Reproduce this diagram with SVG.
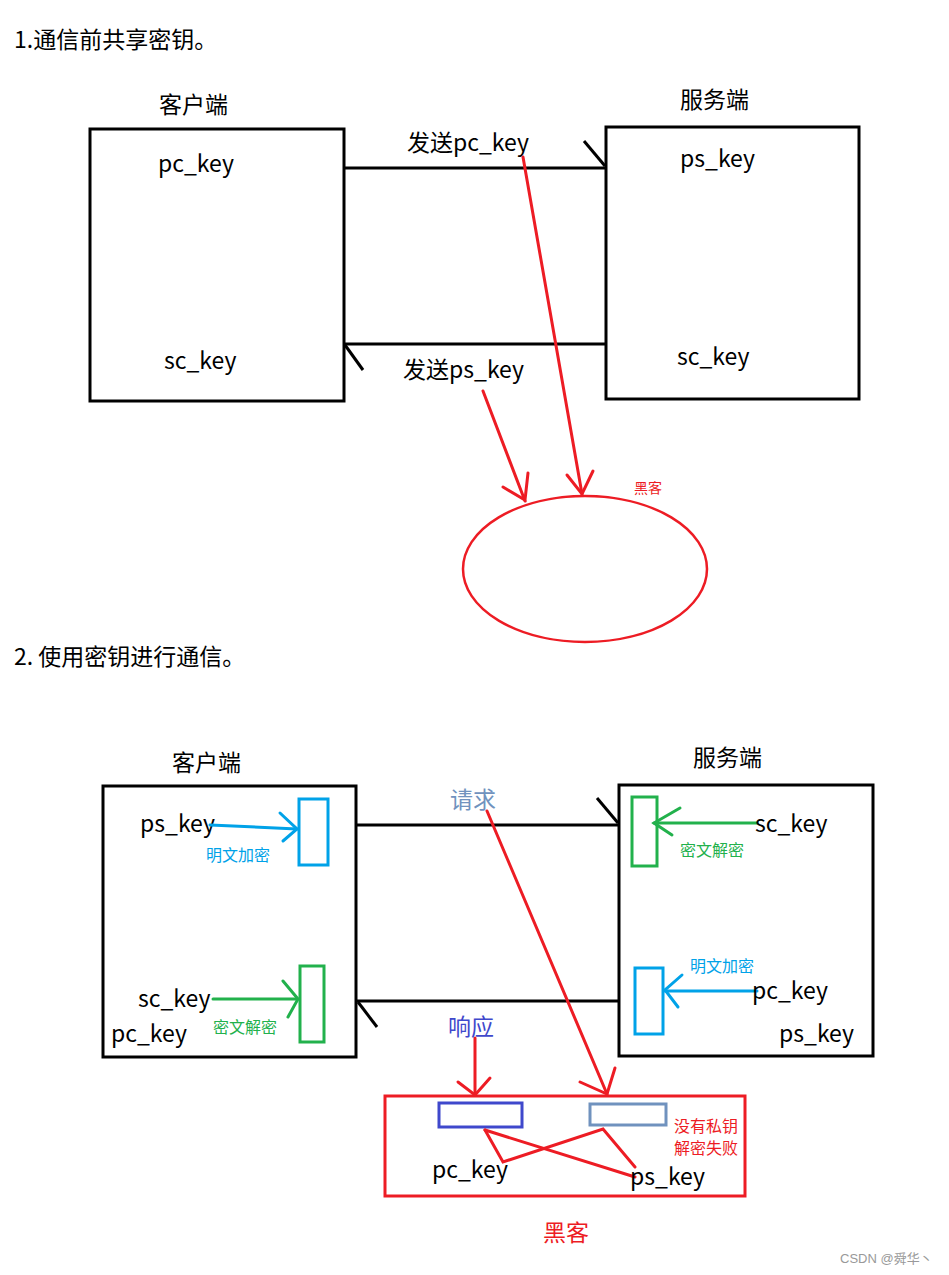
<svg xmlns="http://www.w3.org/2000/svg" width="949" height="1275" viewBox="0 0 949 1275">
<style>
text{font-family:"Noto Sans CJK SC","Microsoft YaHei",sans-serif;fill:#000}
.t{font-size:23px}
.k{font-size:23px}
.s{font-size:16px}
.box{fill:none;stroke:#000;stroke-width:3}
.bl{fill:none;stroke:#000;stroke-width:3;stroke-linecap:butt}
.red{fill:none;stroke:#ed1c24;stroke-width:3;stroke-linecap:round}
.blue{fill:none;stroke:#00a2e8;stroke-width:3;stroke-linecap:round}
.green{fill:none;stroke:#22b14c;stroke-width:3;stroke-linecap:round}
</style>
<rect width="949" height="1275" fill="#fff"/>

<text class="t" x="14" y="48">1.通信前共享密钥。</text>
<text class="t" x="14" y="665">2. 使用密钥进行通信。</text>

<!-- Section 1 nodes -->
<g id="client1">
<rect class="box" x="90" y="129" width="254" height="272"/>
<text class="t" x="159" y="113">客户端</text>
<text class="k" x="158" y="172">pc_key</text>
<text class="k" x="164" y="369">sc_key</text>
</g>
<g id="server1">
<rect class="box" x="606" y="127" width="253" height="272"/>
<text class="t" x="680" y="108">服务端</text>
<text class="k" x="680" y="167">ps_key</text>
<text class="k" x="677" y="365">sc_key</text>
</g>
<g id="hacker1">
<ellipse cx="585" cy="569" rx="122" ry="73" fill="none" stroke="#ed1c24" stroke-width="2.5"/>
<text x="634" y="493" style="font-size:14px;fill:#ed1c24">黑客</text>
</g>

<!-- Section 1 connectors -->
<g id="connectors1">
<line class="bl" x1="344" y1="168" x2="606" y2="168"/>
<line class="bl" x1="584" y1="141" x2="605" y2="166"/>
<line class="bl" x1="344" y1="344" x2="606" y2="344"/>
<line class="bl" x1="345" y1="345" x2="363" y2="370"/>
<text class="t" x="407" y="151">发送pc_key</text>
<text class="t" x="403" y="378">发送ps_key</text>
<line class="red" x1="523" y1="157" x2="582" y2="494"/>
<polyline class="red" points="567,475 582,494 593,471"/>
<line class="red" x1="483" y1="391" x2="525" y2="501"/>
<polyline class="red" points="503,487 525,500 528,473"/>
</g>

<!-- Section 2 nodes -->
<g id="client2">
<rect class="box" x="103" y="786" width="253" height="271"/>
<text class="t" x="172" y="771">客户端</text>
<text class="k" x="140" y="832">ps_key</text>
<rect class="blue" x="299" y="799" width="29" height="66"/>
<line class="blue" x1="210" y1="825" x2="297" y2="829"/>
<polyline class="blue" points="280,813 297,829 283,841"/>
<text class="s" x="206" y="861" style="fill:#00a2e8">明文加密</text>
<text class="k" x="138" y="1007">sc_key</text>
<rect class="green" x="300" y="966" width="24" height="76"/>
<line class="green" x1="213" y1="999" x2="297" y2="999"/>
<polyline class="green" points="283,981 298,999 288,1017"/>
<text class="s" x="213" y="1033" style="fill:#22b14c">密文解密</text>
<text class="k" x="111" y="1042">pc_key</text>
</g>
<g id="server2">
<rect class="box" x="619" y="785" width="254" height="271"/>
<text class="t" x="693" y="766">服务端</text>
<rect class="green" x="632" y="797" width="25" height="69"/>
<line class="green" x1="757" y1="823" x2="654" y2="823"/>
<polyline class="green" points="680,808 654,823 672,835"/>
<text class="k" x="755" y="832">sc_key</text>
<text class="s" x="680" y="856" style="fill:#22b14c">密文解密</text>
<rect class="blue" x="635" y="968" width="28" height="66"/>
<line class="blue" x1="757" y1="991" x2="665" y2="991"/>
<polyline class="blue" points="682,975 665,990 678,1007"/>
<text class="s" x="690" y="972" style="fill:#00a2e8">明文加密</text>
<text class="k" x="752" y="999">pc_key</text>
<text class="k" x="779" y="1042">ps_key</text>
</g>
<g id="hacker2">
<rect x="385" y="1096" width="360" height="100" fill="none" stroke="#ed1c24" stroke-width="3"/>
<rect x="439" y="1103" width="83" height="24" fill="none" stroke="#3f48cc" stroke-width="3"/>
<rect x="590" y="1104" width="76" height="21" fill="none" stroke="#7092be" stroke-width="3"/>
<polyline class="red" points="485,1130 503,1162 603,1129 635,1167"/>
<line class="red" x1="485" y1="1130" x2="635" y2="1177"/>
<text class="k" x="432" y="1178">pc_key</text>
<text class="k" x="630" y="1185">ps_key</text>
<text class="s" x="674" y="1132" style="fill:#ed1c24">没有私钥</text>
<text class="s" x="674" y="1154" style="fill:#ed1c24">解密失败</text>
<text class="t" x="543" y="1241" style="fill:#ed1c24">黑客</text>
</g>

<!-- Section 2 connectors -->
<g id="connectors2">
<line class="bl" x1="356" y1="825" x2="619" y2="825"/>
<line class="bl" x1="597" y1="798" x2="618" y2="823"/>
<line class="bl" x1="356" y1="1001" x2="619" y2="1001"/>
<line class="bl" x1="358" y1="1002" x2="377" y2="1027"/>
<text class="t" x="450" y="808" style="fill:#7092be">请求</text>
<text class="t" x="448" y="1035" style="fill:#3f48cc">响应</text>
<line class="red" x1="487" y1="811" x2="607" y2="1094"/>
<polyline class="red" points="580,1082 607,1094 615,1068"/>
<line class="red" x1="475" y1="1038" x2="475" y2="1094"/>
<polyline class="red" points="458,1082 475,1095 490,1078"/>
</g>

<text x="840" y="1263" style="font-size:13px;fill:#999;font-family:'Liberation Sans','Noto Sans CJK SC',sans-serif">CSDN @舜华丶</text>
</svg>
